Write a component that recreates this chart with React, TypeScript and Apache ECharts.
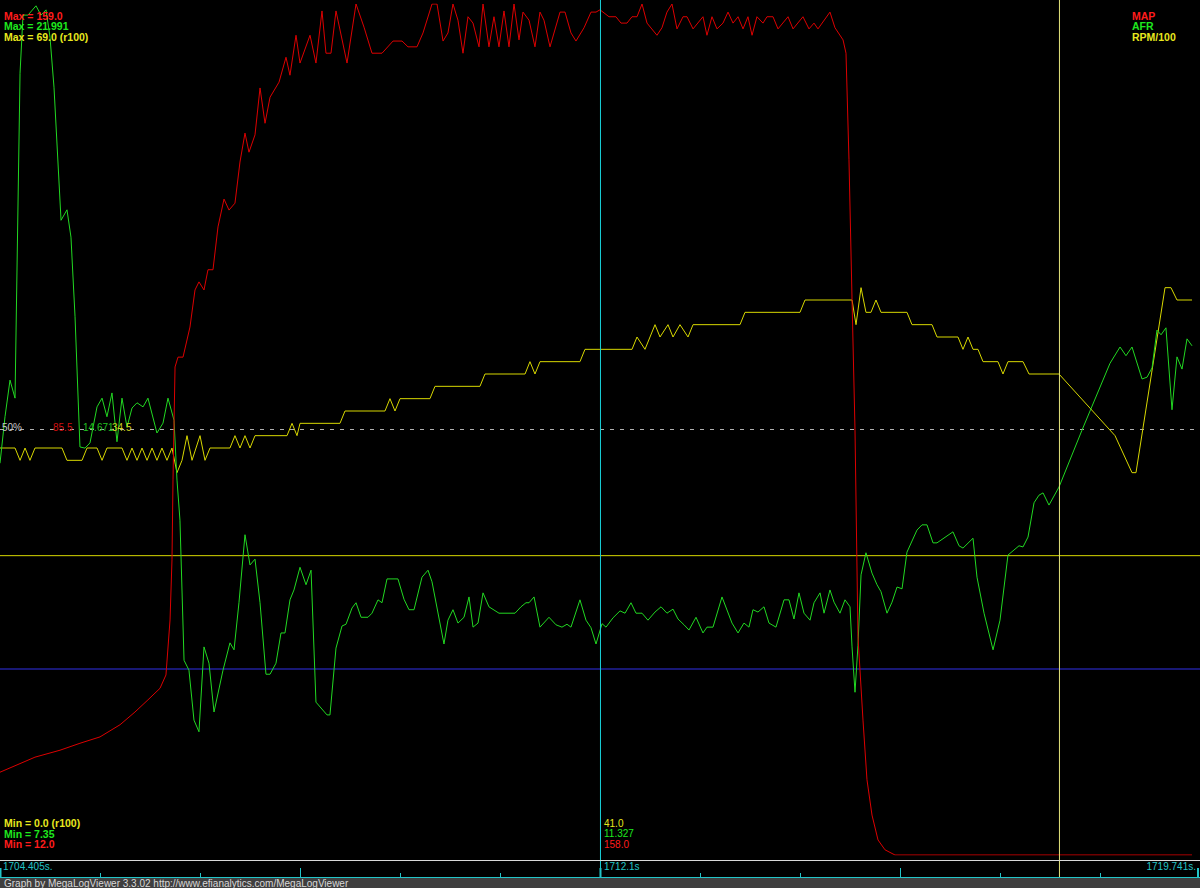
import React, { useEffect, useRef } from "react";
import * as echarts from "echarts";

// Log window (seconds)
const LOG_START = 1704.405;
const LOG_END = 1719.741;
const CURSOR_LABEL = "1712.1s";
const CURSOR_T = 7.674; // elapsed seconds of the cursor
const MARKER_T = 13.54; // elapsed seconds of the second marker

// Channel ranges
const MAP_MIN = 12.0;
const MAP_MAX = 159.0;
const AFR_MIN = 7.35;
const AFR_MAX = 21.991;
const RPM_MIN = 0.0;
const RPM_MAX = 69.0;

// Cursor readouts
const CURSOR_RPM = "41.0";
const CURSOR_AFR = "11.327";
const CURSOR_MAP = "158.0";

// AFR reference lines
const AFR_LINE_HIGH = 12.5;
const AFR_LINE_LOW = 10.55;

// MAP (kPa) — elapsed seconds / values
const mapT = [0, 0.447, 0.767, 1.022, 1.278, 1.534, 1.725, 1.891, 2.045, 2.121, 2.173, 2.198, 2.211, 2.237, 2.275, 2.339, 2.428, 2.492, 2.543, 2.607, 2.658, 2.722, 2.786, 2.863, 2.927, 3.003, 3.067, 3.131, 3.182, 3.259, 3.323, 3.387, 3.451, 3.566, 3.655, 3.706, 3.783, 3.834, 3.962, 4.038, 4.115, 4.166, 4.23, 4.294, 4.435, 4.55, 4.652, 4.754, 4.882, 5.023, 5.138, 5.214, 5.329, 5.406, 5.521, 5.585, 5.662, 5.725, 5.789, 5.853, 5.917, 5.981, 6.045, 6.122, 6.173, 6.249, 6.313, 6.377, 6.441, 6.505, 6.569, 6.633, 6.684, 6.761, 6.837, 6.901, 6.952, 7.029, 7.157, 7.221, 7.297, 7.361, 7.464, 7.553, 7.617, 7.668, 7.783, 7.872, 7.936, 8.013, 8.077, 8.141, 8.205, 8.269, 8.396, 8.46, 8.524, 8.588, 8.652, 8.729, 8.78, 8.857, 8.984, 9.035, 9.099, 9.163, 9.24, 9.304, 9.368, 9.432, 9.496, 9.559, 9.611, 9.674, 9.751, 9.802, 9.879, 9.943, 10.071, 10.135, 10.262, 10.339, 10.403, 10.454, 10.607, 10.671, 10.774, 10.812, 10.85, 10.889, 10.927, 10.965, 11.029, 11.08, 11.144, 11.221, 11.31, 11.438, 15.234];
const mapV = [26.3, 28.9, 30.1, 31.3, 32.4, 34.5, 36.7, 38.8, 40.8, 43.1, 52.6, 63.0, 76.8, 96.3, 98.0, 98.0, 103.2, 109.6, 111.0, 109.6, 113.1, 113.1, 120.5, 125.3, 123.4, 124.6, 131.7, 136.7, 133.4, 136.4, 144.5, 138.4, 142.9, 145.5, 149.8, 146.7, 153.6, 148.8, 153.6, 148.8, 157.8, 150.5, 150.5, 157.8, 148.8, 159, 155.0, 150.5, 150.5, 152.6, 152.6, 151.6, 151.6, 154.0, 159, 159, 152.6, 154.0, 159, 156.2, 150.5, 156.8, 155.7, 151.6, 159, 151.6, 156.8, 151.6, 157.8, 151.6, 159, 152.8, 157.6, 156.2, 151.6, 157.6, 156.2, 151.6, 157.6, 157.6, 154.0, 152.6, 154.9, 157.6, 157.6, 158.0, 156.8, 156.8, 155.7, 155.7, 156.8, 156.8, 159, 155.7, 153.6, 154.9, 157.6, 159, 154.7, 156.8, 156.8, 154.7, 156.8, 153.6, 156.8, 154.7, 155.7, 157.6, 155.7, 156.8, 154.7, 156.8, 153.6, 156.8, 155.7, 156.8, 156.8, 154.7, 156.8, 154.7, 156.8, 154.7, 155.7, 154.7, 157.6, 154.9, 152.8, 150.5, 132.1, 107.9, 85.4, 49.7, 35.3, 25.0, 18.9, 14.6, 12.9, 12.0, 12.0];

// AFR — elapsed seconds / values
const afrT = [0, 0.064, 0.128, 0.192, 0.256, 0.294, 0.358, 0.46, 0.524, 0.588, 0.639, 0.69, 0.78, 0.856, 0.907, 0.959, 1.022, 1.086, 1.15, 1.24, 1.304, 1.367, 1.431, 1.495, 1.559, 1.623, 1.687, 1.751, 1.828, 1.891, 2.006, 2.083, 2.147, 2.224, 2.262, 2.3, 2.352, 2.415, 2.479, 2.543, 2.607, 2.671, 2.735, 2.85, 2.939, 2.991, 3.054, 3.131, 3.195, 3.259, 3.323, 3.399, 3.451, 3.527, 3.591, 3.642, 3.706, 3.757, 3.834, 3.911, 3.975, 4.038, 4.179, 4.217, 4.294, 4.371, 4.422, 4.499, 4.55, 4.614, 4.703, 4.754, 4.831, 4.882, 4.946, 5.086, 5.163, 5.227, 5.291, 5.393, 5.47, 5.521, 5.674, 5.725, 5.789, 5.853, 5.93, 5.994, 6.045, 6.109, 6.173, 6.249, 6.377, 6.582, 6.658, 6.722, 6.761, 6.825, 6.901, 7.016, 7.106, 7.182, 7.246, 7.297, 7.412, 7.489, 7.553, 7.617, 7.694, 7.745, 7.834, 7.924, 7.988, 8.064, 8.128, 8.205, 8.281, 8.371, 8.448, 8.524, 8.601, 8.665, 8.742, 8.805, 8.895, 8.984, 9.035, 9.112, 9.227, 9.355, 9.432, 9.508, 9.572, 9.623, 9.687, 9.764, 9.828, 9.917, 10.02, 10.083, 10.147, 10.211, 10.275, 10.352, 10.403, 10.48, 10.531, 10.607, 10.659, 10.735, 10.799, 10.863, 10.889, 10.927, 10.965, 11.004, 11.067, 11.144, 11.208, 11.259, 11.336, 11.4, 11.464, 11.528, 11.591, 11.719, 11.783, 11.847, 11.924, 11.975, 12.179, 12.256, 12.307, 12.435, 12.486, 12.576, 12.691, 12.78, 12.882, 13.023, 13.074, 13.138, 13.215, 13.278, 13.33, 13.406, 13.534, 13.828, 14.186, 14.314, 14.39, 14.467, 14.595, 14.659, 14.723, 14.786, 14.838, 14.901, 14.978, 15.042, 15.106, 15.17, 15.234];
const afrV = [14.09, 14.89, 15.52, 15.21, 20.8, 21.8, 21.8, 21.96, 21.8, 21.89, 21.42, 20.56, 18.27, 18.45, 17.98, 16.61, 14.37, 14.35, 14.44, 15.06, 15.21, 14.89, 15.3, 14.46, 15.21, 14.71, 15.04, 15.13, 15.06, 15.21, 14.61, 14.78, 15.21, 14.83, 13.8, 13.11, 10.7, 10.53, 9.67, 9.47, 10.93, 10.65, 9.81, 10.53, 11.0, 10.88, 11.69, 12.86, 12.34, 12.44, 11.69, 10.46, 10.46, 10.65, 11.17, 11.17, 11.74, 11.91, 12.3, 12.0, 12.25, 9.98, 9.76, 9.76, 10.91, 11.29, 11.32, 11.6, 11.69, 11.44, 11.44, 11.51, 11.74, 11.69, 12.1, 12.1, 11.75, 11.57, 11.57, 12.13, 12.25, 12.05, 10.98, 11.39, 11.57, 11.34, 11.44, 11.79, 11.27, 11.34, 11.86, 11.62, 11.51, 11.51, 11.62, 11.69, 11.69, 11.79, 11.27, 11.44, 11.31, 11.27, 11.32, 11.27, 11.74, 11.39, 11.26, 10.98, 11.33, 11.27, 11.43, 11.55, 11.51, 11.69, 11.51, 11.51, 11.39, 11.53, 11.62, 11.51, 11.58, 11.41, 11.31, 11.22, 11.44, 11.17, 11.27, 11.27, 11.79, 11.34, 11.17, 11.34, 11.27, 11.57, 11.53, 11.62, 11.34, 11.27, 11.74, 11.74, 11.41, 11.86, 11.51, 11.39, 11.69, 11.86, 11.51, 11.91, 11.7, 11.51, 11.74, 11.62, 10.93, 10.15, 10.96, 12.17, 12.55, 12.2, 12.0, 11.88, 11.51, 11.7, 11.96, 11.93, 12.56, 12.94, 13.03, 13.03, 12.72, 12.72, 12.91, 12.67, 12.63, 12.8, 12.13, 11.51, 10.88, 11.39, 12.51, 12.67, 12.65, 12.82, 13.41, 13.54, 13.58, 13.37, 13.68, 14.66, 15.81, 16.09, 15.94, 16.09, 15.54, 15.57, 15.73, 16.38, 16.3, 16.42, 15.01, 15.92, 15.71, 16.23, 16.11];

// RPM/100 — elapsed seconds / values
const rpmT = [0, 0.192, 0.256, 0.32, 0.383, 0.447, 0.792, 0.856, 1.048, 1.112, 1.24, 1.304, 1.367, 1.559, 1.623, 1.687, 1.751, 1.815, 1.879, 1.943, 2.006, 2.07, 2.134, 2.198, 2.262, 2.326, 2.39, 2.454, 2.556, 2.62, 2.684, 2.939, 3.003, 3.067, 3.131, 3.195, 3.259, 3.668, 3.732, 3.796, 3.834, 4.345, 4.409, 4.92, 4.984, 5.048, 5.112, 5.495, 5.559, 6.134, 6.198, 6.71, 6.773, 6.837, 6.901, 7.412, 7.476, 8.077, 8.141, 8.243, 8.307, 8.371, 8.435, 8.537, 8.601, 8.69, 8.793, 8.857, 9.457, 9.521, 10.224, 10.288, 10.889, 10.94, 11.004, 11.067, 11.131, 11.195, 11.259, 11.591, 11.655, 11.911, 11.975, 12.243, 12.307, 12.371, 12.435, 12.499, 12.563, 12.754, 12.818, 12.882, 13.074, 13.151, 13.534, 14.25, 14.467, 14.518, 14.889, 14.965, 15.042, 15.234];
const rpmV = [33, 33, 32, 33, 32, 33, 33, 32, 32, 33, 33, 32, 33, 33, 32, 33, 32, 33, 32, 33, 32, 33, 32, 33, 31, 32, 34, 32, 34, 32, 33, 33, 34, 33, 34, 33, 34, 34, 35, 34, 35, 35, 36, 36, 37, 36, 37, 37, 38, 38, 39, 39, 40, 39, 40, 40, 41, 41, 42, 41, 42, 43, 42, 43, 42, 43, 42, 43, 43, 44, 44, 45, 45, 43, 46, 44, 44, 45, 44, 44, 43, 43, 42, 42, 41, 42, 41, 41, 40, 40, 39, 40, 40, 39, 39, 34, 31, 31, 46, 46, 45, 45];

const RED = "#ff1c1c";
const GREEN = "#1ee81e";
const YELLOW = "#e8e81e";
const CYAN = "#22c4c8";
const FONT = "'Liberation Sans', Arial, sans-serif";

function zip(t: number[], v: number[]) {
  return t.map((x, i) => [x, v[i]]);
}

function label(text: string, x: number, y: number, fill: string, size: number, bold: boolean, align = "left") {
  return {
    type: "text",
    x,
    y,
    silent: true,
    z: 100,
    style: {
      text,
      fill,
      font: `${bold ? "bold " : ""}${size}px ${FONT}`,
      textAlign: align,
      textVerticalAlign: "middle",
    },
  };
}

function hline(x1: number, x2: number, y: number, stroke: string, width = 1) {
  return { type: "line", silent: true, z: 90, shape: { x1, y1: y, x2, y2: y }, style: { stroke, lineWidth: width } };
}
function vline(x: number, y1: number, y2: number, stroke: string, width = 1) {
  return { type: "line", silent: true, z: 90, shape: { x1: x, y1, x2: x, y2 }, style: { stroke, lineWidth: width } };
}

// two-point line series used for reference lines
function seg(name: string, xAxisIndex: number, yAxisIndex: number, data: number[][], color: string, z: number, dashed?: number[]) {
  return {
    name,
    type: "line",
    xAxisIndex,
    yAxisIndex,
    data,
    symbol: "none",
    silent: true,
    z,
    color,
    lineStyle: { color, width: 1, type: dashed ? dashed : "solid", opacity: 1 },
  };
}

export default function App() {
  const ref = useRef<HTMLDivElement>(null);
  useEffect(() => {
    const chart = echarts.init(ref.current!, null, { renderer: "svg" });
    const span = LOG_END - LOG_START;
    const mid = (a: number, b: number) => (a + b) / 2;
    const half = mid(RPM_MIN, RPM_MAX);

    const ticks: any[] = [];
    for (let i = 0; i <= 12; i++) {
      const x = i === 12 ? 1198 : i * 100 + 0.5;
      const tall = i % 3 === 0;
      ticks.push(vline(x, tall ? 868 : 873, 877, CYAN, tall && (i === 0 || i === 6 || i === 12) ? 2 : 1));
    }

    chart.setOption({
      animation: false,
      backgroundColor: "#000000",
      grid: [
        { left: 0, width: 1200, top: 4, height: 851 },
        { left: 0, width: 1200, top: 0, height: 877 },
      ],
      xAxis: [
        { type: "value", gridIndex: 0, min: 0, max: span, show: false },
        { type: "value", gridIndex: 1, min: 0, max: span, show: false },
      ],
      yAxis: [
        { type: "value", gridIndex: 0, min: MAP_MIN, max: MAP_MAX, show: false },
        { type: "value", gridIndex: 0, min: AFR_MIN, max: AFR_MAX, show: false },
        { type: "value", gridIndex: 0, min: RPM_MIN, max: RPM_MAX, show: false },
        { type: "value", gridIndex: 1, min: 0, max: 1, show: false },
      ],
      series: [
        seg("50%", 0, 2, [[0, half], [span, half]], "#b0b0b0", 1, [4, 6]),
        seg("AFR high", 0, 1, [[0, AFR_LINE_HIGH], [span, AFR_LINE_HIGH]], "#d8d800", 1),
        seg("AFR low", 0, 1, [[0, AFR_LINE_LOW], [span, AFR_LINE_LOW]], "#3030e8", 1),
        {
          name: "RPM/100",
          type: "line",
          xAxisIndex: 0,
          yAxisIndex: 2,
          data: zip(rpmT, rpmV),
          symbol: "none",
          silent: true,
          z: 2,
          lineStyle: { color: "#d8d800", width: 1 },
        },
        {
          name: "AFR",
          type: "line",
          xAxisIndex: 0,
          yAxisIndex: 1,
          data: zip(afrT, afrV),
          symbol: "none",
          silent: true,
          z: 3,
          lineStyle: { color: "#22d822", width: 1 },
        },
        {
          name: "MAP",
          type: "line",
          xAxisIndex: 0,
          yAxisIndex: 0,
          data: zip(mapT, mapV),
          symbol: "none",
          silent: true,
          z: 4,
          lineStyle: { color: "#dc0000", width: 1 },
        },
        seg("cursor", 1, 3, [[CURSOR_T, 0], [CURSOR_T, 1]], "#18d0d8", 5),
        seg("marker", 1, 3, [[MARKER_T, 0], [MARKER_T, 1]], "#e4e47c", 5),
      ],
      graphic: [
        // top-left maxima
        label(`Max = ${MAP_MAX.toFixed(1)}`, 4, 15.5, RED, 10.5, true),
        label(`Max = ${AFR_MAX.toFixed(3)}`, 4, 26, GREEN, 10.5, true),
        label(`Max = ${RPM_MAX.toFixed(1)} (r100)`, 4, 36.5, YELLOW, 10.5, true),
        // top-right legend
        label("MAP", 1132, 15.5, RED, 10.5, true),
        label("AFR", 1132, 26, GREEN, 10.5, true),
        label("RPM/100", 1132, 36.5, YELLOW, 10.5, true),
        // bottom-left minima
        label(`Min = ${RPM_MIN.toFixed(1)} (r100)`, 4, 823, YELLOW, 10.5, true),
        label(`Min = ${AFR_MIN.toFixed(2)}`, 4, 833.5, GREEN, 10.5, true),
        label(`Min = ${MAP_MIN.toFixed(1)}`, 4, 844, RED, 10.5, true),
        // cursor readouts
        label(CURSOR_RPM, 604, 823, YELLOW, 10, false),
        label(CURSOR_AFR, 604, 833.5, GREEN, 10, false),
        label(CURSOR_MAP, 604, 844, RED, 10, false),
        // 50% line labels
        label("50%", 2, 427, "#c8c8c8", 10, false),
        label(mid(MAP_MIN, MAP_MAX).toFixed(1), 53, 427, "#d01010", 10, false),
        label(mid(AFR_MIN, AFR_MAX).toFixed(3), 83, 427, "#20c020", 10, false),
        label(mid(RPM_MIN, RPM_MAX).toFixed(1), 112, 427, "#d0d020", 10, false),
        // bottom time strip
        hline(0, 1200, 860.5, "#d8d8d8"),
        hline(0, 1200, 877.5, CYAN),
        ...ticks,
        label(`${LOG_START.toFixed(3)}s.`, 3, 866.5, CYAN, 10, false),
        label(CURSOR_LABEL, 604, 866.5, CYAN, 10, false),
        label(`${LOG_END.toFixed(3)}s.`, 1196, 866.5, CYAN, 10, false, "right"),
        // footer
        { type: "rect", silent: true, z: 80, shape: { x: 0, y: 878, width: 1200, height: 10 }, style: { fill: "#3f3f3f" } },
        label("Graph by MegaLogViewer 3.3.02 http://www.efianalytics.com/MegaLogViewer", 4, 883, "#d8d8d8", 10, false),
      ],
    });
    return () => chart.dispose();
  }, []);
  return (
    <div
      ref={ref}
      style={{ position: "fixed", left: 0, top: 0, width: 1200, height: 888, background: "#000" }}
    />
  );
}
